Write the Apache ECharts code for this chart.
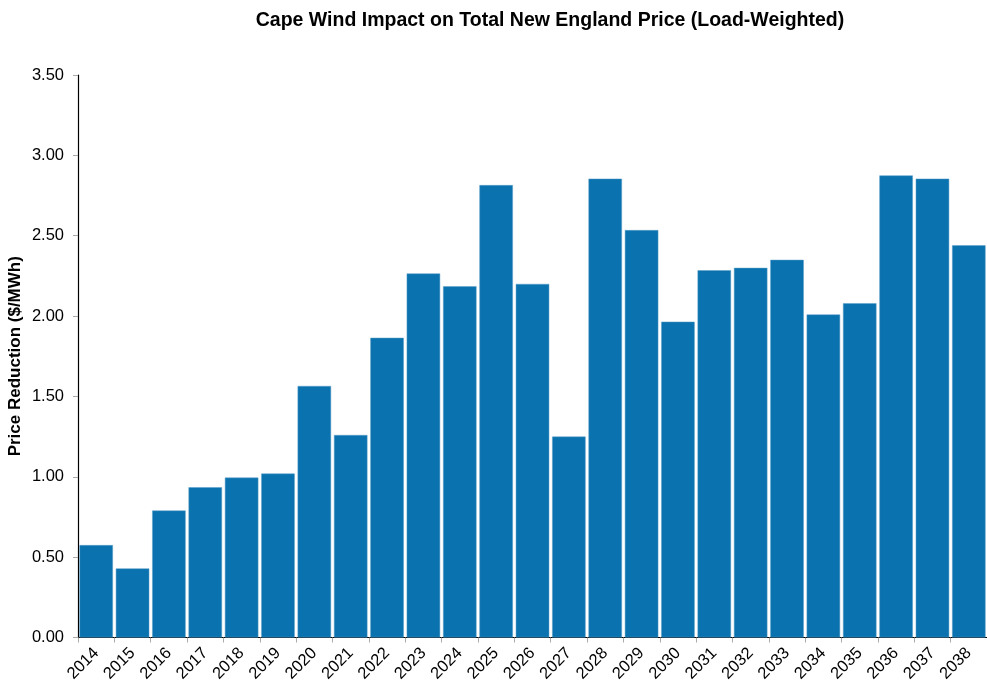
<!DOCTYPE html>
<html>
<head>
<meta charset="utf-8">
<script src="https://cdn.jsdelivr.net/npm/echarts@6/dist/echarts.min.js"></script>
<style>
  html, body { margin: 0; padding: 0; background: #fff; }
  #chart { width: 987px; height: 692px; }
</style>
</head>
<body>
<div id="chart"></div>
<script>
// years on the x axis
const years = [
  "2014", "2015", "2016", "2017", "2018", "2019", "2020", "2021", "2022",
  "2023", "2024", "2025", "2026", "2027", "2028", "2029", "2030", "2031",
  "2032", "2033", "2034", "2035", "2036", "2037", "2038"
];
// price reduction, $/MWh
const priceReduction = [
  0.575, 0.43, 0.79, 0.935, 0.995, 1.02, 1.565, 1.26, 1.865,
  2.265, 2.185, 2.815, 2.2, 1.25, 2.855, 2.535, 1.965, 2.285,
  2.3, 2.35, 2.01, 2.08, 2.875, 2.855, 2.44
];
const yTicks = { min: 0, max: 3.5, step: 0.5 };

const chart = echarts.init(document.getElementById("chart"));
chart.setOption({
  animation: false,
  textStyle: { fontFamily: "Liberation Sans, Arial, sans-serif" },
  title: {
    text: "Cape Wind Impact on Total New England Price (Load-Weighted)",
    left: 545,
    textAlign: "center",
    top: 6,
    textStyle: { fontSize: 19.5, fontWeight: "bold", color: "#000" }
  },
  grid: {
    left: 78, right: 0, top: 75, bottom: 54.5,
    containLabel: false, outerBoundsMode: "none"
  },
  xAxis: {
    type: "category",
    data: years,
    axisLine: { lineStyle: { color: "#000", width: 1.2 } },
    axisTick: { show: true, length: 5, lineStyle: { color: "#aaa" } },
    axisLabel: { rotate: 45, color: "#000", fontSize: 16.5, margin: 13, interval: 0 }
  },
  yAxis: {
    type: "value",
    min: yTicks.min,
    max: yTicks.max,
    interval: yTicks.step,
    name: "Price Reduction ($/MWh)",
    nameLocation: "middle",
    nameGap: 54,
    nameMoveOverlap: false,
    nameTextStyle: { fontSize: 17, fontWeight: "bold", color: "#000" },
    axisLine: { show: true, lineStyle: { color: "#000", width: 1.2 } },
    axisTick: { show: true, length: 5, lineStyle: { color: "#aaa" } },
    splitLine: { show: false },
    axisLabel: {
      color: "#000",
      fontSize: 16.5,
      margin: 14,
      formatter: v => v.toFixed(2)
    }
  },
  series: [{
    type: "bar",
    data: priceReduction,
    barCategoryGap: "8%",
    itemStyle: { color: "#0a72ae", borderColor: "#5b9ec8", borderWidth: 0.5 }
  }]
});
</script>
</body>
</html>
